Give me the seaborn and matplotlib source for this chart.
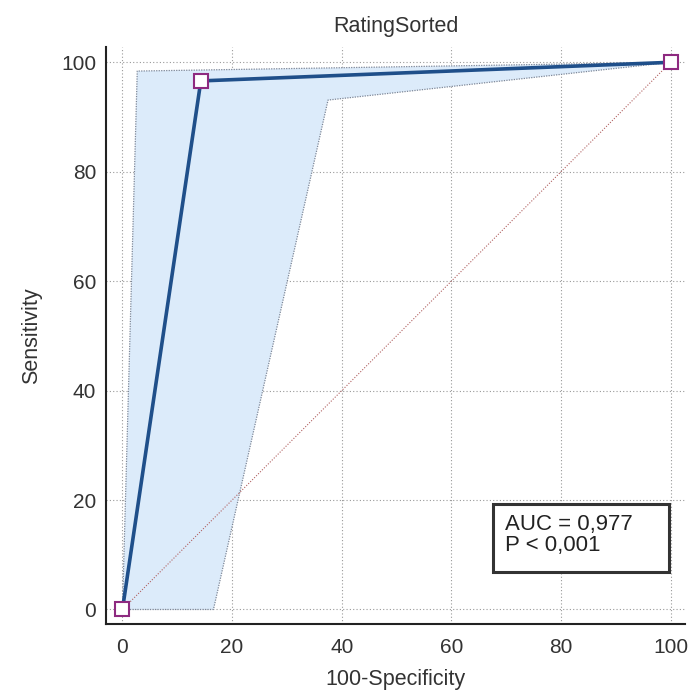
import matplotlib
matplotlib.use("Agg")
import matplotlib.pyplot as plt
import seaborn as sns
import pandas as pd
from matplotlib.ticker import MultipleLocator
from matplotlib.patches import Rectangle

sns.set_style("white")
plt.rcParams['font.family'] = ['Liberation Sans', 'DejaVu Sans']

# ROC data
fpr = [0, 14.3, 100]
tpr = [0, 96.6, 100]
# confidence band
upper_x = [0, 2.7, 100]
upper_y = [0, 98.4, 100]
lower_x = [0, 16.6, 37.5, 100]
lower_y = [0, 0, 93.1, 100]
diag = [0, 100]
ticks = [0, 20, 40, 60, 80, 100]
title = "RatingSorted"
auc_text = "AUC = 0,977\nP < 0,001"

fig = plt.figure(figsize=(6.91, 6.91), dpi=100)
ax = fig.add_axes([0.1534, 0.097, 0.8386, 0.835])

poly_x = upper_x + lower_x[::-1]
poly_y = upper_y + lower_y[::-1]
ax.fill(poly_x, poly_y, color="#dcebfa", zorder=1, lw=0)
ax.plot(upper_x, upper_y, color="#7d8798", lw=0.9, ls=(0, (1, 1)), zorder=2)
ax.plot(lower_x, lower_y, color="#7d8798", lw=0.9, ls=(0, (1, 1)), zorder=2)

ax.plot(diag, diag, color="#b06060", lw=0.8, ls=(0, (1, 1.5)), zorder=2)

df = pd.DataFrame({"fpr": fpr, "tpr": tpr})
sns.lineplot(data=df, x="fpr", y="tpr", ax=ax, color="#1f4f8a", lw=2.6,
             marker="s", markersize=9.5, markerfacecolor="white",
             markeredgecolor="#8e2a80", markeredgewidth=1.5, zorder=5,
             sort=False, estimator=None)

ax.set_xlim(-3.0, 102.7)
ax.set_ylim(-2.65, 102.8)
ax.set_xticks(ticks)
ax.set_yticks(ticks)
ax.xaxis.set_minor_locator(MultipleLocator(5))
ax.yaxis.set_minor_locator(MultipleLocator(5))
ax.tick_params(axis="both", which="major", direction="in", length=10, width=1.3,
               labelsize=15, colors="#222222", labelcolor="#333333")
ax.tick_params(axis="x", which="major", pad=10)
ax.tick_params(axis="y", which="major", pad=7)
ax.tick_params(axis="both", which="minor", direction="in", length=5, width=1.1,
               colors="#222222")
ax.grid(True, which="major", color="#999999", ls=(0, (1, 2)), lw=0.8)
ax.set_axisbelow(True)
for s in ["top", "right"]:
    ax.spines[s].set_visible(False)
for s in ["left", "bottom"]:
    ax.spines[s].set_color("#222222")
    ax.spines[s].set_linewidth(1.5)

ax.set_xlabel("100-Specificity", fontsize=15.5, color="#333333", labelpad=9)
ax.set_ylabel("Sensitivity", fontsize=15.5, color="#333333", labelpad=14)
ax.set_title(title, fontsize=15.5, color="#333333", pad=11)

ax.add_patch(Rectangle((0.667, 0.09), 0.305, 0.118, transform=ax.transAxes,
                       facecolor="white", edgecolor="#333333", lw=2.2,
                       zorder=10))
ax.text(0.688, 0.154, auc_text, transform=ax.transAxes, fontsize=16,
        color="#222222", va="center", ha="left", linespacing=1.0, zorder=11)
if ax.get_legend():
    ax.get_legend().remove()

fig.savefig("out.png", dpi=100)
